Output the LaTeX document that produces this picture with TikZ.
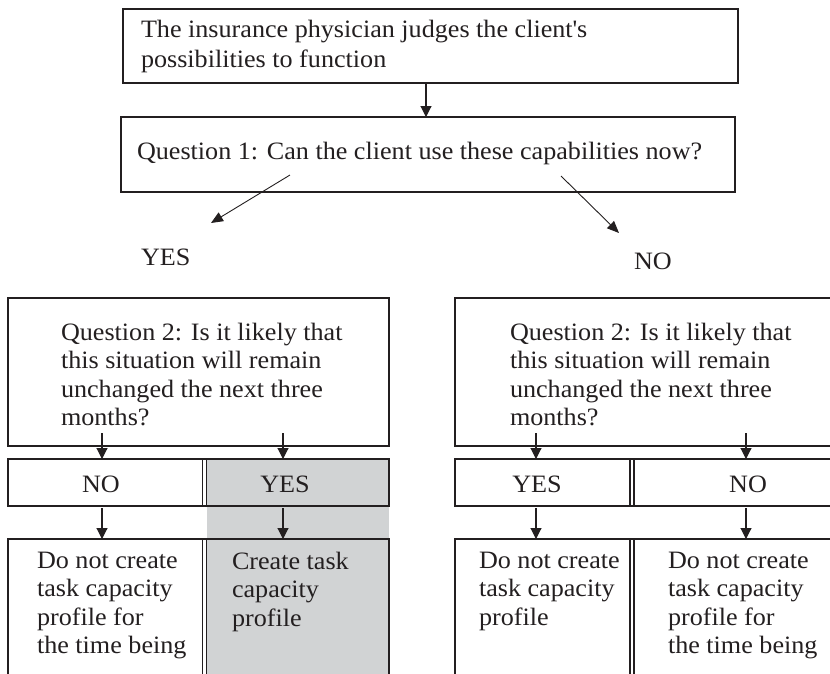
\documentclass[tikz,border=0pt]{standalone}
\usepackage{fontspec}
\setmainfont{Liberation Serif}[FakeStretch=1.045]
\usetikzlibrary{arrows.meta}
\definecolor{ink}{HTML}{231F20}
\definecolor{cellgray}{HTML}{D1D3D4}
\tikzset{
  box/.style={draw=ink, line width=1.2pt, rectangle, inner sep=0pt, outer sep=0pt, anchor=north west},
  thickbox/.style={box, line width=2.6pt},
  arr/.style={draw=ink, line width=1.1pt, -{Triangle[length=11pt,width=11pt]}},
  thinarr/.style={draw=ink, line width=0.9pt, -{Triangle[length=12pt,width=10pt]}},
  txt/.style={font=\fontsize{25}{28.5}\selectfont, inner sep=0pt, outer sep=0pt, text=ink},
  para/.style={txt, align=left, anchor=north west},
}
\begin{document}
\begin{tikzpicture}[x=1pt, y=-1pt]
\useasboundingbox (0,0) rectangle (830,673);
\clip (0,0) rectangle (830,673);
\fill[white] (0,0) rectangle (830,673);
% shaded column
\fill[cellgray] (206.5,459) rectangle (389,700);

% boxes
\node[thickbox, minimum width=615pt, minimum height=74pt] (top) at (123,9) {};
\node[box, minimum width=614pt, minimum height=75pt] (q1) at (121,117) {};
\node[box, minimum width=381pt, minimum height=148pt] (q2l) at (8,298) {};
\node[box, minimum width=400pt, minimum height=148pt] (q2r) at (455,298) {};
\node[box, minimum width=198.5pt, minimum height=47pt] (noL) at (8,459) {};
\node[box, minimum width=186.5pt, minimum height=47pt] (yesL) at (202.5,459) {};
\node[box, minimum width=179pt, minimum height=47pt] (yesR) at (455,459) {};
\node[box, minimum width=225pt, minimum height=47pt] (noR) at (630,459) {};
\node[box, minimum width=198.5pt, minimum height=160pt] (dL1) at (8,539) {};
\node[box, minimum width=186.5pt, minimum height=160pt] (dL2) at (202.5,539) {};
\node[box, minimum width=179pt, minimum height=160pt] (dR1) at (455,539) {};
\node[box, minimum width=225pt, minimum height=160pt] (dR2) at (630,539) {};

% texts
\node[para, font=\fontsize{25}{30.5}\selectfont] (ttop) at (141,20) {The insurance physician judges the client\textquotesingle s\\possibilities to function};
\node[txt, anchor=base west] (tq1) at (137,159) {Question 1: Can the client use these capabilities now?};
\node[txt, anchor=base west] (yes1) at (141,265) {YES};
\node[txt, anchor=base west] (no1) at (634,269) {NO};
\node[para] (tq2l) at (61,323) {Question 2: Is it likely that\\this situation will remain\\unchanged the next three\\months?};
\node[para] (tq2r) at (510,323) {Question 2: Is it likely that\\this situation will remain\\unchanged the next three\\months?};
\node[txt, anchor=base] (tnoL) at (101,492) {NO};
\node[txt, anchor=base] (tyesL) at (285,492) {YES};
\node[txt, anchor=base] (tyesR) at (537,492) {YES};
\node[txt, anchor=base] (tnoR) at (748,492) {NO};
\node[para] (tdL1) at (37,552) {Do not create\\task capacity\\profile for\\the time being};
\node[para] (tdL2) at (232,552) {Create task\\capacity\\profile};
\node[para] (tdR1) at (479,552) {Do not create\\task capacity\\profile};
\node[para] (tdR2) at (668,552) {Do not create\\task capacity\\profile for\\the time being};

% connectors
\coordinate (c0) at (426,83);
\draw[arr] (c0) -- (c0 |- q1.north);
\coordinate (ya) at (290,175);
\coordinate (yb) at (211,223);
\draw[thinarr] (ya) -- (yb);
\coordinate (na) at (561,176);
\coordinate (nb) at (619,233);
\draw[thinarr] (na) -- (nb);

\coordinate (s1) at (102,433);
\coordinate (s2) at (283,433);
\coordinate (s3) at (536,433);
\coordinate (s4) at (746,433);
\draw[arr] (s1) -- (s1 |- noL.north);
\draw[arr] (s2) -- (s2 |- yesL.north);
\draw[arr] (s3) -- (s3 |- yesR.north);
\draw[arr] (s4) -- (s4 |- noR.north);

\coordinate (r1) at (102,508);
\coordinate (r2) at (283,508);
\coordinate (r3) at (536,508);
\coordinate (r4) at (746,508);
\draw[arr] (r1) -- (r1 |- dL1.north);
\draw[arr] (r2) -- (r2 |- dL2.north);
\draw[arr] (r3) -- (r3 |- dR1.north);
\draw[arr] (r4) -- (r4 |- dR2.north);
\end{tikzpicture}
\end{document}
